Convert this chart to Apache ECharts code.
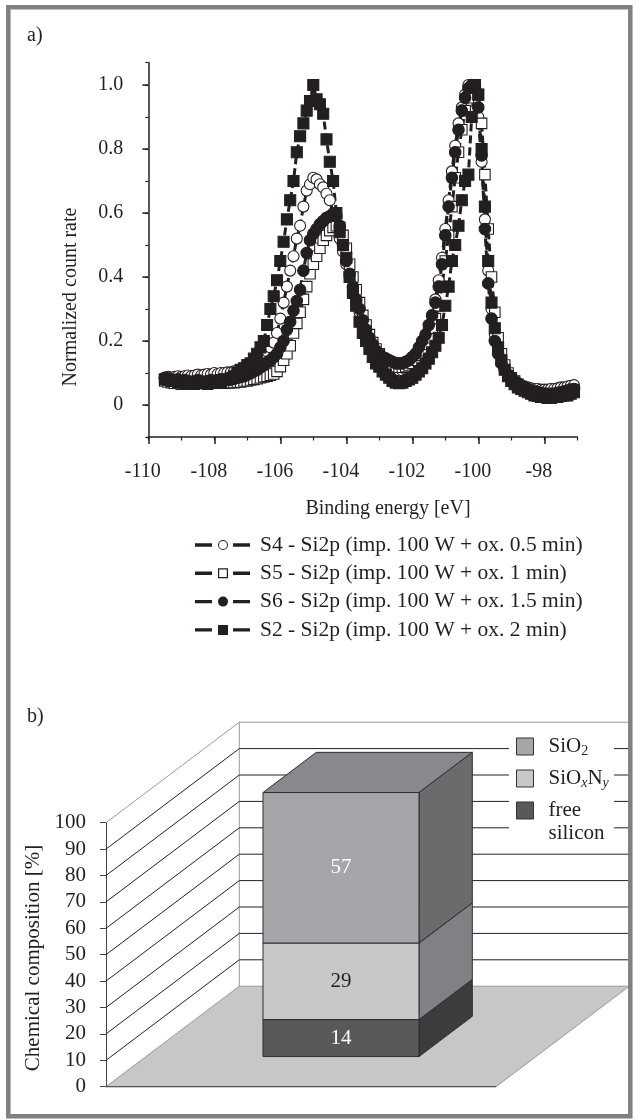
<!DOCTYPE html>
<html>
<head>
<meta charset="utf-8">
<script src="https://cdn.jsdelivr.net/npm/echarts@6/dist/echarts.min.js"></script>
<style>
html, body { margin: 0; padding: 0; background: #fff; }
#chart { width: 636px; height: 1120px; }
</style>
</head>
<body>
<div id="chart"></div>
<script>
var chart = echarts.init(document.getElementById('chart'));

var FONT = 'Liberation Serif';
var INK = '#231f20';

// ---- panel a) : Si2p spectra ----
var energy = [
  -109.5, -109.4, -109.3, -109.2, -109.1, -109.0, -108.9, -108.8, -108.7, -108.6,
  -108.5, -108.4, -108.3, -108.2, -108.1, -108.0, -107.9, -107.8, -107.7, -107.6,
  -107.5, -107.4, -107.3, -107.2, -107.1, -107.0, -106.9, -106.8, -106.7, -106.6,
  -106.5, -106.4, -106.3, -106.2, -106.1, -106.0, -105.9, -105.8, -105.7, -105.6,
  -105.5, -105.4, -105.3, -105.2, -105.1, -105.0, -104.9, -104.8, -104.7, -104.6,
  -104.5, -104.4, -104.3, -104.2, -104.1, -104.0, -103.9, -103.8, -103.7, -103.6,
  -103.5, -103.4, -103.3, -103.2, -103.1, -103.0, -102.9, -102.8, -102.7, -102.6,
  -102.5, -102.4, -102.3, -102.2, -102.1, -102.0, -101.9, -101.8, -101.7, -101.6,
  -101.5, -101.4, -101.3, -101.2, -101.1, -101.0, -100.9, -100.8, -100.7, -100.6,
  -100.5, -100.4, -100.3, -100.2, -100.1, -100.0, -99.9, -99.8, -99.7, -99.6,
  -99.5, -99.4, -99.3, -99.2, -99.1, -99.0, -98.9, -98.8, -98.7, -98.6,
  -98.5, -98.4, -98.3, -98.2, -98.1, -98.0, -97.9, -97.8, -97.7, -97.6,
  -97.5, -97.4, -97.3, -97.2, -97.1
];

// S4 - open circles
var s4 = [
  0.085, 0.088, 0.085, 0.088, 0.09, 0.088, 0.09, 0.092, 0.09, 0.092,
  0.095, 0.092, 0.095, 0.097, 0.095, 0.1, 0.097, 0.1, 0.1, 0.102,
  0.102, 0.105, 0.108, 0.11, 0.115, 0.12, 0.13, 0.135, 0.142, 0.15,
  0.16, 0.168, 0.18, 0.195, 0.225, 0.27, 0.32, 0.37, 0.42, 0.465,
  0.52, 0.56, 0.62, 0.67, 0.69, 0.71, 0.705, 0.69, 0.68, 0.66,
  0.64, 0.6, 0.56, 0.52, 0.48, 0.44, 0.4, 0.36, 0.32, 0.29,
  0.255, 0.225, 0.2, 0.175, 0.16, 0.145, 0.135, 0.125, 0.118, 0.112,
  0.11, 0.108, 0.108, 0.11, 0.115, 0.125, 0.14, 0.16, 0.18, 0.21,
  0.24, 0.28, 0.33, 0.39, 0.46, 0.55, 0.64, 0.73, 0.81, 0.88,
  0.93, 0.97, 1.0, 0.99, 0.96, 0.9, 0.76, 0.58, 0.42, 0.3,
  0.22, 0.17, 0.135, 0.11, 0.095, 0.085, 0.075, 0.068, 0.062, 0.058,
  0.055, 0.052, 0.05, 0.05, 0.048, 0.048, 0.048, 0.05, 0.05, 0.052,
  0.055, 0.055, 0.058, 0.06, 0.062
];

// S5 - open squares
var s5 = [
  0.075, 0.072, 0.07, 0.068, 0.07, 0.065, 0.068, 0.065, 0.068, 0.065,
  0.068, 0.07, 0.068, 0.065, 0.068, 0.07, 0.068, 0.07, 0.068, 0.07,
  0.07, 0.07, 0.072, 0.072, 0.075, 0.075, 0.078, 0.08, 0.082, 0.085,
  0.088, 0.09, 0.093, 0.097, 0.105, 0.12, 0.14, 0.16, 0.185, 0.225,
  0.255, 0.29, 0.33, 0.37, 0.41, 0.44, 0.465, 0.49, 0.515, 0.53,
  0.545, 0.555, 0.56, 0.555, 0.53, 0.49, 0.44, 0.4, 0.36, 0.32,
  0.28, 0.25, 0.22, 0.195, 0.175, 0.16, 0.145, 0.135, 0.13, 0.125,
  0.12, 0.118, 0.118, 0.12, 0.125, 0.13, 0.14, 0.155, 0.17, 0.19,
  0.21, 0.24, 0.27, 0.31, 0.37, 0.45, 0.53, 0.62, 0.71, 0.79,
  0.86, 0.92, 0.96, 0.99, 1.0, 0.97, 0.88, 0.72, 0.55, 0.4,
  0.29, 0.21, 0.16, 0.125, 0.1, 0.085, 0.075, 0.065, 0.058, 0.052,
  0.047, 0.043, 0.04, 0.037, 0.035, 0.033, 0.032, 0.032, 0.033, 0.035,
  0.037, 0.04, 0.042, 0.045, 0.048
];

// S6 - filled circles
var s6 = [
  0.085, 0.082, 0.08, 0.078, 0.08, 0.075, 0.078, 0.075, 0.072, 0.075,
  0.078, 0.075, 0.072, 0.075, 0.078, 0.075, 0.078, 0.08, 0.078, 0.08,
  0.08, 0.082, 0.085, 0.088, 0.09, 0.095, 0.1, 0.105, 0.11, 0.118,
  0.125, 0.133, 0.14, 0.15, 0.16, 0.18, 0.2, 0.235, 0.26, 0.295,
  0.325, 0.36, 0.42, 0.475, 0.515, 0.535, 0.55, 0.565, 0.575, 0.585,
  0.59, 0.595, 0.59, 0.56, 0.5, 0.45, 0.41, 0.37, 0.33, 0.3,
  0.265, 0.235, 0.21, 0.19, 0.17, 0.16, 0.15, 0.145, 0.14, 0.135,
  0.13, 0.13, 0.13, 0.135, 0.14, 0.15, 0.16, 0.18, 0.2, 0.22,
  0.25, 0.28, 0.32, 0.37, 0.44, 0.53, 0.62, 0.71, 0.79, 0.86,
  0.92, 0.96, 0.99, 1.0, 0.99, 0.93, 0.78, 0.55, 0.38, 0.27,
  0.2, 0.16, 0.13, 0.11, 0.095, 0.085, 0.075, 0.068, 0.06, 0.055,
  0.05, 0.045, 0.042, 0.04, 0.038, 0.036, 0.035, 0.035, 0.036, 0.038,
  0.04, 0.042, 0.045, 0.048, 0.05
];

// S2 - filled squares
var s2 = [
  0.08, 0.078, 0.075, 0.078, 0.072, 0.07, 0.072, 0.068, 0.07, 0.072,
  0.068, 0.07, 0.072, 0.07, 0.073, 0.07, 0.075, 0.072, 0.078, 0.08,
  0.085, 0.09, 0.1, 0.11, 0.115, 0.125, 0.13, 0.145, 0.16, 0.18,
  0.2, 0.25, 0.3, 0.34, 0.39, 0.45, 0.51, 0.58, 0.64, 0.7,
  0.79, 0.84, 0.88, 0.92, 0.95, 1.0, 0.955, 0.94, 0.91, 0.83,
  0.76, 0.7, 0.6, 0.54, 0.5, 0.46, 0.4, 0.35, 0.31, 0.26,
  0.225, 0.2, 0.175, 0.15, 0.13, 0.12, 0.105, 0.095, 0.085, 0.075,
  0.07, 0.068, 0.07, 0.075, 0.08, 0.085, 0.095, 0.105, 0.115, 0.13,
  0.145, 0.165, 0.185, 0.21, 0.25, 0.31, 0.37, 0.45, 0.5, 0.56,
  0.64, 0.7, 0.72, 0.9, 1.0, 0.97, 0.8, 0.62, 0.45, 0.32,
  0.24, 0.18, 0.14, 0.11, 0.09, 0.075, 0.065, 0.055, 0.05, 0.045,
  0.04, 0.035, 0.03, 0.028, 0.025, 0.025, 0.022, 0.022, 0.025, 0.025,
  0.028, 0.03, 0.03, 0.035, 0.04
];

var spectraNames = [
  'S4 - Si2p (imp. 100 W + ox. 0.5 min)',
  'S5 - Si2p (imp. 100 W + ox. 1 min)',
  'S6 - Si2p (imp. 100 W + ox. 1.5 min)',
  'S2 - Si2p (imp. 100 W + ox. 2 min)'
];
var energyTicks = [-110, -108, -106, -104, -102, -100, -98];
var rateTicks = [0, 0.2, 0.4, 0.6, 0.8, 1.0];

// ---- panel b) : chemical composition ----
var compNames = ['free silicon', 'SiOxNy', 'SiO2'];
var compValues = [14, 29, 57];
var percentTicks = [0, 10, 20, 30, 40, 50, 60, 70, 80, 90, 100];

// look of the pseudo-3D box
var DEPTH = [133.3, -100.5];      // full depth of floor, in px
var BOX_FRONT = 0.3, BOX_BACK = 0.7, BOX_WIDTH = 0.4;
var compColors = {
  'free silicon': {front: '#58595b', side: '#3c3c3e', top: '#4a4a4c', label: '#fff'},
  'SiOxNy': {front: '#c7c8ca', side: '#808184', top: '#a2a3a5', label: INK},
  'SiO2': {front: '#a5a6a9', side: '#6b6b6d', top: '#88898c', label: '#fff'}
};

function pairs(ys) {
  return energy.map(function (e, i) { return [e, ys[i]]; });
}

function spectrum(name, ys, symbol, size, fill) {
  return {
    name: name, type: 'line', xAxisIndex: 0, yAxisIndex: 0,
    data: pairs(ys),
    symbol: symbol, symbolSize: size, showSymbol: true,
    lineStyle: {color: INK, width: 3, type: [8, 4]},
    itemStyle: {color: fill, borderColor: INK, borderWidth: 1.1},
    emphasis: {disabled: true},
    clip: true, animation: false
  };
}

// legend icons: bar - marker - bar
var BARS = 'M0 3.3H17V6.7H0Z M38 3.3H55V6.7H38Z ';
var legendIcons = [
  'path://' + BARS + 'M33 5A5 5 0 1 0 23 5A5 5 0 1 0 33 5Z M32 5A4 4 0 1 1 24 5A4 4 0 1 1 32 5Z',
  'path://' + BARS + 'M23 0H33V10H23Z M24.2 1.2V8.8H31.8V1.2Z',
  'path://' + BARS + 'M33 5A5 5 0 1 0 23 5A5 5 0 1 0 33 5Z',
  'path://' + BARS + 'M23 0H33V10H23Z'
];

function renderWalls(params, api) {
  var v = api.value(1);
  var p = api.coord([0, v]);
  var band = api.size([1, 0])[0];
  var xl = p[0] - band / 2, xr = p[0] + band / 2;
  var grey = '#9a9a9a', black = '#222';
  var top = v === percentTicks[percentTicks.length - 1];
  var kids = [];
  if (v === 0) {
    var ptop = api.coord([0, percentTicks[percentTicks.length - 1]]);
    kids.push({type: 'polygon', shape: {points: [[xl, p[1]], [xr, p[1]], [xr + DEPTH[0], p[1] + DEPTH[1]], [xl + DEPTH[0], p[1] + DEPTH[1]]]},
      style: {fill: '#c6c7c9', stroke: grey, lineWidth: 1}});
    kids.push({type: 'line', shape: {x1: xl, y1: p[1], x2: xr, y2: p[1]}, style: {stroke: '#444', lineWidth: 1}});
    kids.push({type: 'line', shape: {x1: xl + DEPTH[0], y1: p[1] + DEPTH[1], x2: xl + DEPTH[0], y2: ptop[1] + DEPTH[1]}, style: {stroke: grey, lineWidth: 1}});
    kids.push({type: 'line', shape: {x1: xr + DEPTH[0], y1: p[1] + DEPTH[1], x2: xr + DEPTH[0], y2: ptop[1] + DEPTH[1]}, style: {stroke: grey, lineWidth: 1}});
  } else {
    kids.push({type: 'line', shape: {x1: xl, y1: p[1], x2: xl + DEPTH[0], y2: p[1] + DEPTH[1]}, style: {stroke: top ? grey : black, lineWidth: 1}});
    kids.push({type: 'line', shape: {x1: xl + DEPTH[0], y1: p[1] + DEPTH[1], x2: xr + DEPTH[0], y2: p[1] + DEPTH[1]}, style: {stroke: top ? grey : black, lineWidth: 1}});
  }
  return {type: 'group', children: kids};
}

function renderBox(params, api) {
  var name = compNames[params.seriesIndex - 5];
  var c = compColors[name];
  var pb = api.coord([0, api.value(1)]);
  var pt = api.coord([0, api.value(2)]);
  var band = api.size([1, 0])[0];
  var half = band * BOX_WIDTH / 2;
  var fx = DEPTH[0] * BOX_FRONT, fy = DEPTH[1] * BOX_FRONT;
  var dx = DEPTH[0] * (BOX_BACK - BOX_FRONT), dy = DEPTH[1] * (BOX_BACK - BOX_FRONT);
  var x0 = pb[0] - half + fx, x1 = pb[0] + half + fx;
  var yb = pb[1] + fy, yt = pt[1] + fy;
  var edge = {stroke: '#2e2e2e', lineWidth: 1};
  return {type: 'group', children: [
    {type: 'polygon', shape: {points: [[x0, yt], [x1, yt], [x1 + dx, yt + dy], [x0 + dx, yt + dy]]}, style: Object.assign({fill: c.top}, edge)},
    {type: 'polygon', shape: {points: [[x1, yb], [x1, yt], [x1 + dx, yt + dy], [x1 + dx, yb + dy]]}, style: Object.assign({fill: c.side}, edge)},
    {type: 'rect', shape: {x: x0, y: yt, width: x1 - x0, height: yb - yt}, style: Object.assign({fill: c.front}, edge)},
    {type: 'text', x: (x0 + x1) / 2, y: (yb + yt) / 2, style: {text: String(api.value(3)), fill: c.label,
      fontFamily: FONT, fontSize: 21, align: 'center', verticalAlign: 'middle'}}
  ]};
}

var boxSeries = [];
var acc = 0;
compNames.forEach(function (n, i) {
  boxSeries.push({
    name: n, type: 'custom', xAxisIndex: 2, yAxisIndex: 2, z: 3,
    data: [[0, acc, acc + compValues[i], compValues[i]]],
    encode: {x: 0, y: [1, 2]},
    itemStyle: {color: compColors[n].front, borderColor: '#333', borderWidth: 1},
    renderItem: renderBox, silent: true, animation: false
  });
  acc += compValues[i];
});

var compRich = {
  t: {fontFamily: FONT, fontSize: 21, lineHeight: 23, color: INK},
  s: {fontFamily: FONT, fontSize: 14, lineHeight: 8, verticalAlign: 'bottom', color: INK},
  i: {fontFamily: FONT, fontSize: 14, fontStyle: 'italic', lineHeight: 8, verticalAlign: 'bottom', color: INK}
};
var compLabel = {
  'SiO2': '{t|SiO}{s|2}',
  'SiOxNy': '{t|SiO}{i|x}{t|N}{i|y}',
  'free silicon': '{t|free}\n{t|silicon}'
};
function compLegend(name, top, pad) {
  return {
    data: [{name: name, icon: 'rect'}], left: 516, top: top, padding: 0, z: 20,
    orient: 'vertical', selectedMode: false, itemWidth: 17, itemHeight: 17,
    itemStyle: {borderColor: '#333', borderWidth: 1},
    formatter: function (n) { return compLabel[n]; },
    textStyle: {fontFamily: FONT, fontSize: 21, color: INK, lineHeight: 23, padding: pad, rich: compRich}
  };
}

var axisFont = {fontFamily: FONT, fontSize: 20, color: INK};

var option = {
  animation: false,
  backgroundColor: '#fff',
  grid: [
    {left: 148.3, top: 62.6, width: 429, height: 374.4},
    {left: 106, top: 822.7, width: 390, height: 264}
  ],
  xAxis: [
    {type: 'value', gridIndex: 0, position: 'bottom', min: -110, max: -97,
      axisLine: {onZero: false, lineStyle: {color: INK, width: 1.5}},
      axisTick: {customValues: energyTicks, length: 7, lineStyle: {color: INK, width: 1.5}},
      axisLabel: Object.assign({customValues: energyTicks, margin: 25, padding: [0, 11, 0, 0],
        formatter: function (v) { return String(v); }}, axisFont),
      splitLine: {show: false}},
    {type: 'value', gridIndex: 0, position: 'bottom', min: -110, max: -97, interval: 1,
      axisLine: {show: false, onZero: false},
      axisTick: {length: 3.5, lineStyle: {color: INK, width: 1.2}},
      axisLabel: {show: false}, splitLine: {show: false}},
    {type: 'category', gridIndex: 1, data: ['sample'], show: false}
  ],
  yAxis: [
    {type: 'value', gridIndex: 0, position: 'left', min: -0.1, max: 1.07,
      axisLine: {show: true, onZero: false, lineStyle: {color: INK, width: 1.5}},
      axisTick: {show: true, customValues: rateTicks, length: 6, lineStyle: {color: INK, width: 1.5}},
      axisLabel: Object.assign({customValues: rateTicks, margin: 25,
        formatter: function (v) { return v === 0 ? '0' : v.toFixed(1); }}, axisFont),
      splitLine: {show: false}},
    {type: 'value', gridIndex: 0, position: 'left', min: -0.1, max: 1.07, interval: 0.1,
      axisLine: {show: false, onZero: false},
      axisTick: {show: true, length: 3, lineStyle: {color: INK, width: 1.2}},
      axisLabel: {show: false}, splitLine: {show: false}},
    {type: 'value', gridIndex: 1, min: 0, max: 100, interval: 10,
      axisLine: {show: true, lineStyle: {color: '#444', width: 1}},
      axisTick: {show: true, length: 6, lineStyle: {color: '#444'}},
      axisLabel: {margin: 20, fontFamily: FONT, fontSize: 21, color: INK},
      splitLine: {show: false}}
  ],
  legend: [
    {orient: 'vertical', left: 195, top: 533, padding: 0, itemGap: 4.3,
      itemWidth: 55, itemHeight: 10, selectedMode: false,
      data: spectraNames.map(function (n, i) { return {name: n, icon: legendIcons[i]}; }),
      itemStyle: {color: INK, borderWidth: 0},
      textStyle: {fontFamily: FONT, fontSize: 21.5, color: INK, lineHeight: 24, padding: [0, 0, 0, 5]}},
    compLegend('SiO2', 735, [0, 0, 0, 10]),
    compLegend('SiOxNy', 767, [0, 0, 0, 10]),
    compLegend('free silicon', 776, [23, 0, 0, 10])
  ],
  graphic: {elements: [
    {type: 'rect', z: 10, silent: true, shape: {x: 509, y: 731, width: 105, height: 117}, style: {fill: '#fff'}},
    {type: 'text', x: 27, y: 36, style: {text: 'a)', fontFamily: FONT, fontSize: 20, fill: INK, verticalAlign: 'middle'}},
    {type: 'text', x: 27, y: 717, style: {text: 'b)', fontFamily: FONT, fontSize: 20, fill: INK, verticalAlign: 'middle'}},
    {type: 'text', x: 71, y: 297, rotation: Math.PI / 2,
      style: {text: 'Normalized count rate', fontFamily: FONT, fontSize: 20, fill: INK, align: 'center', verticalAlign: 'middle'}},
    {type: 'text', x: 388, y: 509,
      style: {text: 'Binding energy [eV]', fontFamily: FONT, fontSize: 20, fill: INK, align: 'center', verticalAlign: 'middle'}},
    {type: 'text', x: 33, y: 958, rotation: Math.PI / 2,
      style: {text: 'Chemical composition [%]', fontFamily: FONT, fontSize: 21, fill: INK, align: 'center', verticalAlign: 'middle'}},
    {type: 'rect', z: 30, silent: true, shape: {x: 8.3, y: 7.2, width: 622, height: 1109},
      style: {fill: 'none', stroke: '#808080', lineWidth: 4.5}}
  ]},
  series: [
    spectrum(spectraNames[0], s4, 'circle', 11, '#fff'),
    spectrum(spectraNames[1], s5, 'rect', 10.5, '#fff'),
    spectrum(spectraNames[2], s6, 'circle', 11.5, INK),
    spectrum(spectraNames[3], s2, 'rect', 11, INK),
    {name: 'walls', type: 'custom', xAxisIndex: 2, yAxisIndex: 2, z: 1,
      data: percentTicks.map(function (v) { return [0, v]; }),
      encode: {x: 0, y: 1}, renderItem: renderWalls, silent: true, animation: false}
  ].concat(boxSeries)
};

chart.setOption(option);
</script>
</body>
</html>
